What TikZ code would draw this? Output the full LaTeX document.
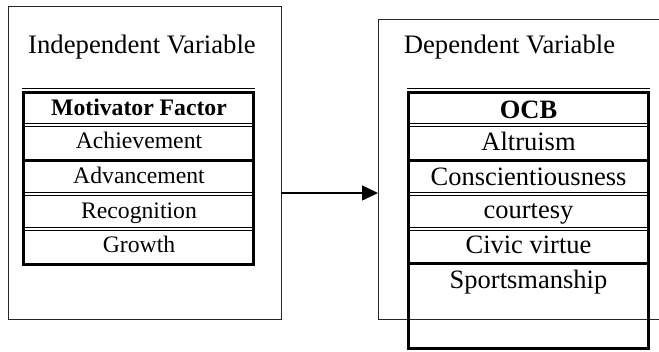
\documentclass[tikz,border=0pt]{standalone}
\usepackage{fontspec}
\setmainfont{Liberation Serif}
\usetikzlibrary{arrows.meta}
\begin{document}
\begin{tikzpicture}[x=1pt,y=-1pt,
  outerbox/.style={draw=black!85,line width=1pt,rectangle,inner sep=0pt,outer sep=0pt},
  titletext/.style={anchor=base,inner sep=0pt,font=\fontsize{26.7}{30}\selectfont},
  ltext/.style={anchor=base,inner sep=0pt,font=\fontsize{23.7}{27}\selectfont},
  rtext/.style={anchor=base,inner sep=0pt,font=\fontsize{26.5}{30}\selectfont},
  thinrule/.style={line width=0.9pt},
  thickrule/.style={line width=3pt},
  frame/.style={line width=3pt,line join=miter},
  arrowline/.style={line width=1.6pt,-{Triangle[length=16pt,width=15pt]}}]
\useasboundingbox (0,0) rectangle (659,351);
\clip (0,0) rectangle (659,351);
\fill[white] (0,0) rectangle (659,351);
% outer boxes
\node[outerbox,minimum width=273pt,minimum height=313pt] (lbox) at (144.5,162.5) {};
\node[outerbox,minimum width=322pt,minimum height=300pt] (rbox) at (539,169) {};
% titles
\node[titletext] (ltitle) at (142,53) {Independent Variable};
\node[titletext] (rtitle) at (509.5,53) {Dependent Variable};
% arrow
\draw[arrowline] (lbox.east |- 0,193) -- (rbox.west |- 0,193);
% left table lines
\draw[thinrule] (22,88) -- (255,88);
\draw[frame] (23.5,92) -- (23.5,264.5) -- (253.5,264.5) -- (253.5,92) -- cycle;
\draw[thinrule] (23.5,123.3) -- (253.5,123.3) (23.5,126.7) -- (253.5,126.7);
\draw[thickrule] (23.5,160) -- (253.5,160);
\draw[thinrule] (23.5,192.3) -- (253.5,192.3) (23.5,195.7) -- (253.5,195.7);
\draw[thinrule] (23.5,227.3) -- (253.5,227.3) (23.5,230.7) -- (253.5,230.7);
% left table texts
\node[ltext] (l0) at (139,115) {\bfseries Motivator Factor};
\node[ltext] (l1) at (139,148.3) {Achievement};
\node[ltext] (l2) at (139,183.3) {Advancement};
\node[ltext] (l3) at (139,218.3) {Recognition};
\node[ltext] (l4) at (139,252.3) {Growth};
% right table lines
\draw[thinrule] (407,88) -- (650,88);
\draw[frame] (408.5,92) -- (408.5,348) -- (648.5,348) -- (648.5,92) -- cycle;
\draw[thinrule] (408.5,123.3) -- (648.5,123.3) (408.5,126.7) -- (648.5,126.7);
\draw[thickrule] (408.5,160) -- (648.5,160);
\draw[thinrule] (408.5,192.3) -- (648.5,192.3) (408.5,195.7) -- (648.5,195.7);
\draw[thinrule] (408.5,227.3) -- (648.5,227.3) (408.5,230.7) -- (648.5,230.7);
\draw[thickrule] (408.5,263.5) -- (648.5,263.5);
% right table texts
\node[rtext] (r0) at (528.5,118) {\bfseries OCB};
\node[rtext] (r1) at (528.5,150) {Altruism};
\node[rtext] (r2) at (528.5,185) {Conscientiousness};
\node[rtext] (r3) at (528.5,218) {courtesy};
\node[rtext] (r4) at (528.5,253) {Civic virtue};
\node[rtext] (r5) at (528.5,288) {Sportsmanship};
\end{tikzpicture}
\end{document}
